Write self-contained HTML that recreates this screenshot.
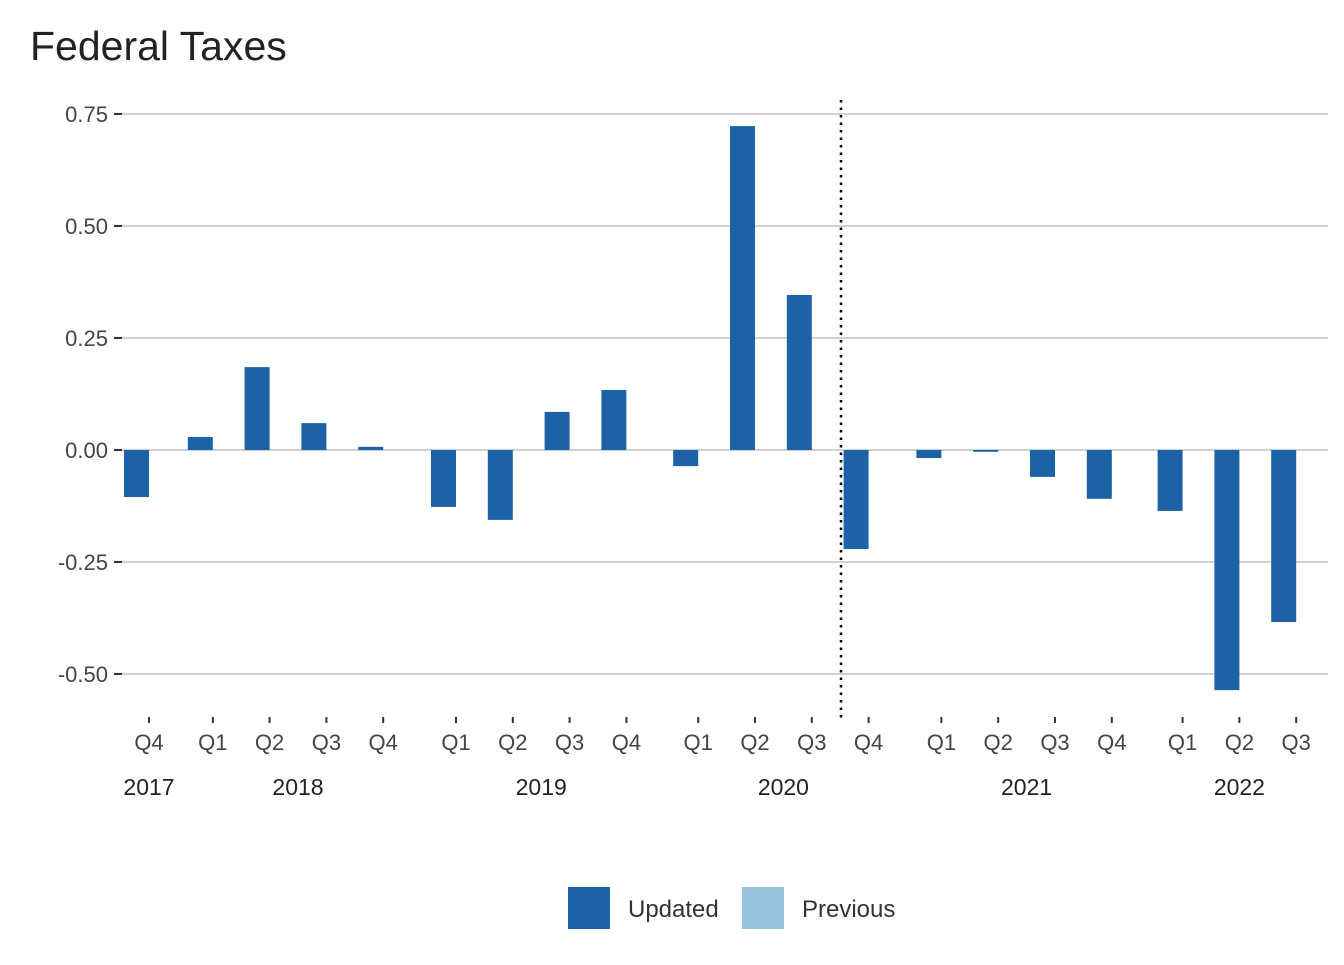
<!DOCTYPE html>
<html><head><meta charset="utf-8"><style>
body{margin:0;background:#fff;font-family:"Liberation Sans",sans-serif}
</style></head><body>
<svg width="1344" height="960" style="font-family:'Liberation Sans',sans-serif">
<text x="30" y="60" font-size="41" fill="#222">Federal Taxes</text>
<g id="grid"></g><g id="bars"></g><g id="xlab"></g>
<line x1="841" y1="100" x2="841" y2="718" stroke="#000" stroke-width="2.5" stroke-dasharray="2.5,5"/>
<g>
<rect x="568" y="887" width="42" height="42" fill="#1d62a6"/>
<text x="628" y="917" font-size="24" fill="#333">Updated</text>
<rect x="742" y="887" width="42" height="42" fill="#97c3dd"/>
<text x="802" y="917" font-size="24" fill="#333">Previous</text>
</g>
</svg>
<script>
const quarters=["Q4","Q1","Q2","Q3","Q4","Q1","Q2","Q3","Q4","Q1","Q2","Q3","Q4","Q1","Q2","Q3","Q4","Q1","Q2","Q3"];
const yearGroup=[0,1,1,1,1,2,2,2,2,3,3,3,3,4,4,4,4,5,5,5];
const years=["2017","2018","2019","2020","2021","2022"];
const values=[-0.105,0.029,0.185,0.06,0.007,-0.127,-0.156,0.085,0.134,-0.036,0.723,0.346,-0.221,-0.018,-0.004,-0.06,-0.109,-0.136,-0.536,-0.384];
const yTicks=[0.75,0.5,0.25,0,-0.25,-0.5];
const yTickLabels=["0.75","0.50","0.25","0.00","-0.25","-0.50"];
const ns="http://www.w3.org/2000/svg";
const yearShift=[0,7,23,38,54,68];
const y=v=>450-v*448;
const tx=i=>149+i*56.8+yearShift[yearGroup[i]];
function mk(t,a,p){const e=document.createElementNS(ns,t);for(const k in a)e.setAttribute(k,a[k]);p.appendChild(e);return e;}
const G=document.getElementById('grid'),B=document.getElementById('bars'),X=document.getElementById('xlab');
yTicks.forEach((v,k)=>{
 const l=mk('line',{x1:122,x2:1328,y1:y(v),y2:y(v),stroke:'#d0d0d0','stroke-width':2},G);
 
 
 mk('line',{x1:114,x2:122,y1:y(v),y2:y(v),stroke:'#333','stroke-width':2},G);
 const t=mk('text',{x:108,y:y(v)+8,'font-size':22,fill:'#444','text-anchor':'end'},G);t.textContent=yTickLabels[k];
 
 
});
values.forEach((v,i)=>{
 const r=mk('rect',{x:tx(i)-25,width:25,y:Math.min(y(v),y(0)),height:Math.abs(y(v)-y(0)),fill:'#1d62a6'},B);
 
 
 mk('line',{x1:tx(i),x2:tx(i),y1:717,y2:723,stroke:'#333','stroke-width':2},X);
 const t=mk('text',{x:tx(i),y:750,'font-size':22,fill:'#444','text-anchor':'middle'},X);t.textContent=quarters[i];
 
 
});
years.forEach((yr,g)=>{
 const idx=yearGroup.map((v,i)=>v===g?i:-1).filter(i=>i>=0);
 const cx=(tx(idx[0])+tx(idx[idx.length-1]))/2;
 const t=mk('text',{x:cx,y:795,'font-size':23,fill:'#222','text-anchor':'middle'},X);t.textContent=yr;
 
 
});
</script>
</body></html>
